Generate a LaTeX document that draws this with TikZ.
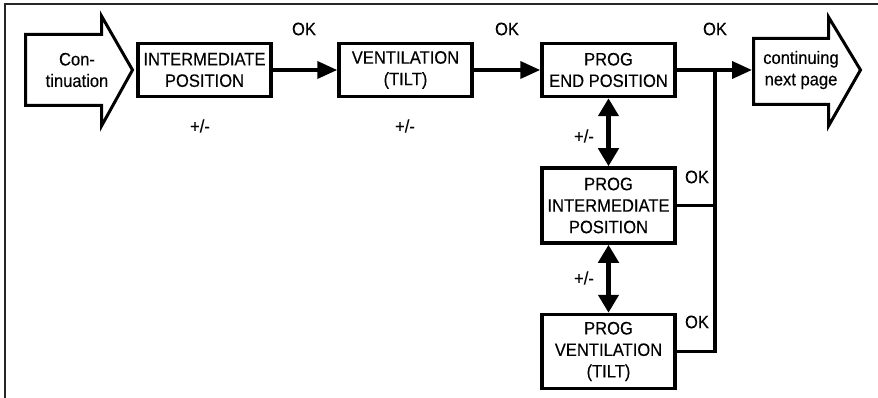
\documentclass[tikz,border=0pt]{standalone}
\usepackage{fontspec}
\setmainfont[FakeStretch=0.92,FakeBold=0.25]{Liberation Sans}
\usetikzlibrary{arrows.meta}
\begin{document}
\begin{tikzpicture}[x=1pt,y=-1pt,
  every node/.style={font=\fontsize{18}{21.5}\selectfont, inner sep=0pt},
  box/.style={draw, line width=3.5pt, minimum width=133pt, align=center},
  txt/.style={align=center},
  conn/.style={line width=3.8pt, -{Triangle[length=20pt,width=17pt]}},
  plain/.style={line width=3.8pt},
  bidir/.style={line width=4.5pt, {Triangle[length=18pt,width=20pt]}-{Triangle[length=18pt,width=20pt]}},
  bigarrow/.style={draw, line width=3pt, line join=miter},
  frame/.style={draw=black!85, line width=2pt}
  ]
\useasboundingbox (0,0) rectangle (878,398);
% frame
\draw[frame] (5,398) -- (5,4) -- (878,4);

% big input arrow
\draw[bigarrow] (25.5,34.5) -- (101.5,34.5) -- (101.5,16) -- (132.5,70) -- (101.5,126) -- (101.5,105.5) -- (25.5,105.5) -- cycle;
\node[txt] (cont) at (77,70) {Con-\\tinuation};

% big output arrow
\draw[bigarrow] (753.5,38.5) -- (828.5,38.5) -- (828.5,17) -- (860.5,70) -- (828.5,126) -- (828.5,104.5) -- (753.5,104.5) -- cycle;
\node[txt] (nxt) at (801,70) {continuing\\next page};
\coordinate (nxin) at (752,70);

% boxes
\node[box, minimum height=53pt] (im) at (204.5,70) {INTERMEDIATE\\POSITION};
\node[box, minimum height=53pt] (vent) at (405.5,70) {VENTILATION\\(TILT)};
\node[box, minimum height=53pt] (pend) at (608.5,70) {PROG\\END POSITION};
\node[box, minimum height=75pt] (pint) at (608.5,205.5) {PROG\\INTERMEDIATE\\POSITION};
\node[box, minimum height=74pt] (pvent) at (608.5,351.5) {PROG\\VENTILATION\\(TILT)};

% connectors
\draw[conn] (im.east) -- (vent.west);
\draw[conn] (vent.east) -- (pend.west);
\coordinate (j) at (715,70);
\draw[conn] (pend.east) -- (nxin);
\draw[plain] (pint.east) -| (j);
\draw[plain] (pvent.east) -| (j);
\draw[bidir] (pend.south) -- (pint.north);
\draw[bidir] (pint.south) -- (pvent.north);

% labels
\node (ok1) at (304,29) {OK};
\node (ok2) at (507,29) {OK};
\node (ok3) at (715,29) {OK};
\node (pm1) at (200,126) {+/-};
\node (pm2) at (405,126) {+/-};
\node (pm3) at (584,136) {+/-};
\node (pm4) at (584,278) {+/-};
\node (ok4) at (697,177) {OK};
\node (ok5) at (697,322) {OK};
\end{tikzpicture}
\end{document}
